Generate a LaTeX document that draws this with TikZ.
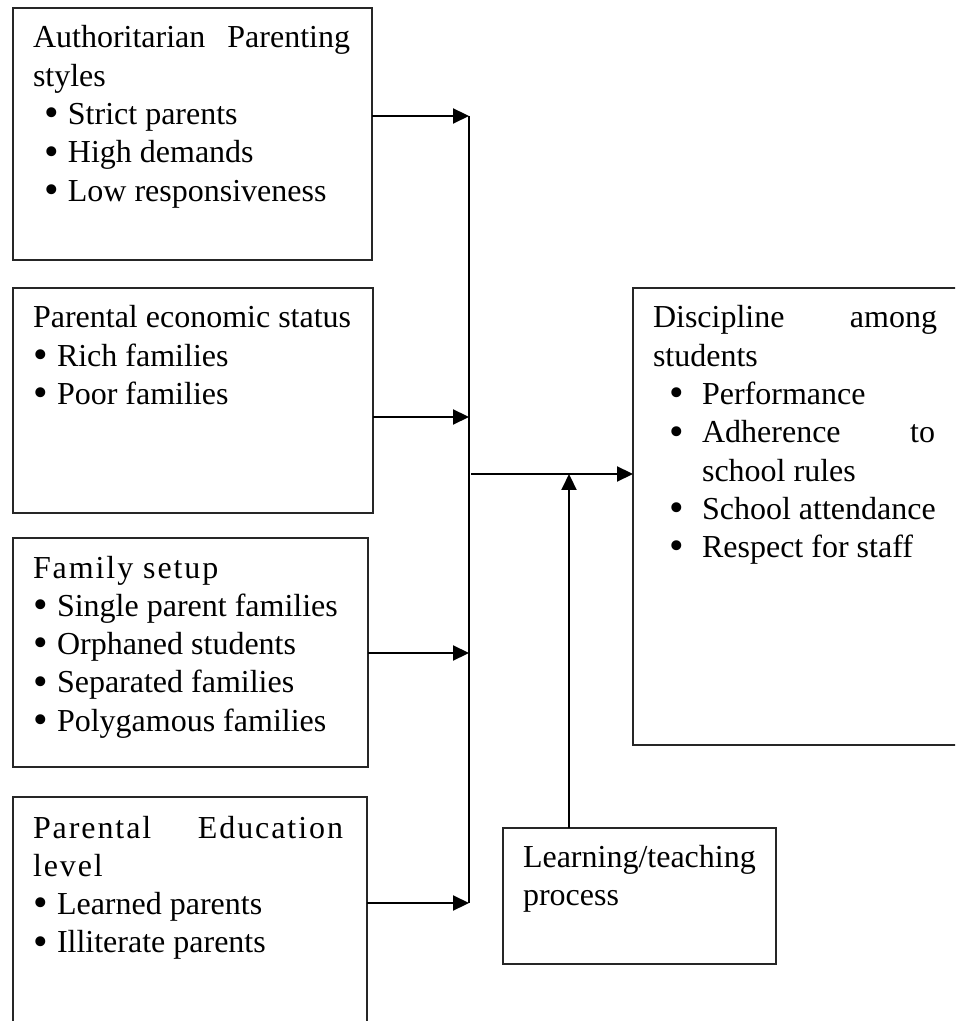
\documentclass[tikz,border=0pt]{standalone}
\usepackage{fontspec}
\setmainfont{Liberation Serif}
\newfontfamily\spacedfont[LetterSpace=6]{Liberation Serif}
\usetikzlibrary{arrows.meta}
\newcommand{\boxlines}{\fontsize{12pt}{14.36pt}\selectfont\parindent=0pt\raggedright}
\newcommand{\blt}{\raisebox{-0.8pt}{\scalebox{1.3}{•}}}
\begin{document}
\begin{tikzpicture}[x=0.375pt,y=-0.375pt,
  box/.style={draw=black!85,line width=0.45pt,rectangle,inner sep=0pt,outer sep=0pt,anchor=north west},
  txt/.style={inner sep=0pt,outer sep=0pt,anchor=base west},
  arr/.style={line width=0.9pt,-{Triangle[length=6pt,width=5.6pt]}},
  bar/.style={line width=0.45pt}]
\useasboundingbox (0,0) rectangle (955,1021);
\clip (0,0) rectangle (955,1021);
\fill[white] (0,0) rectangle (955,1021);

% boxes
\node[box,minimum width=134.6pt,minimum height=94.5pt] (b1) at (13,8) {};
\node[box,minimum width=135pt,minimum height=84.4pt] (b2) at (13,288) {};
\node[box,minimum width=133.1pt,minimum height=85.9pt] (b3) at (13,538) {};
\node[box,minimum width=132.75pt,minimum height=92pt] (b4) at (13,797) {};
\node[box,minimum width=126pt,minimum height=171.4pt] (disc) at (633,288) {};
\node[box,minimum width=102.4pt,minimum height=51pt] (learn) at (503,828) {};

% texts
\node[txt] (t1) at (33,48) {\parbox[t]{135pt}{\boxlines
\makebox[118.9pt][s]{Authoritarian\hfill Parenting}\\
styles\\
\hspace*{4.3pt}\makebox[8.8pt][l]{\blt}Strict parents\\
\hspace*{4.3pt}\makebox[8.8pt][l]{\blt}High demands\\
\hspace*{4.3pt}\makebox[8.8pt][l]{\blt}Low responsiveness}};

\node[txt] (t2) at (33,328) {\parbox[t]{135pt}{\boxlines
Parental economic status\\
\makebox[9pt][l]{\blt}Rich families\\
\makebox[9pt][l]{\blt}Poor families}};

\node[txt] (t3) at (33,578) {\parbox[t]{135pt}{\boxlines
{\spacedfont Family setup}\\
\makebox[9pt][l]{\blt}Single parent families\\
\makebox[9pt][l]{\blt}Orphaned students\\
\makebox[9pt][l]{\blt}Separated families\\
\makebox[9pt][l]{\blt}Polygamous families}};

\node[txt] (t4) at (33,838) {\parbox[t]{135pt}{\boxlines
\makebox[116.25pt][s]{\spacedfont Parental\hfill Education}\\
{\spacedfont level}\\
\makebox[9pt][l]{\blt}Learned parents\\
\makebox[9pt][l]{\blt}Illiterate parents}};

\node[txt] (t5) at (653,328) {\parbox[t]{120pt}{\boxlines
\makebox[106.5pt][s]{Discipline\hfill among}\\
students\\
\hspace*{6pt}\makebox[12.4pt][l]{\blt}Performance\\
\hspace*{6pt}\makebox[12.4pt][l]{\blt}\makebox[87.4pt][s]{Adherence\hfill to}\\
\hspace*{18.4pt}school rules\\
\hspace*{6pt}\makebox[12.4pt][l]{\blt}School attendance\\
\hspace*{6pt}\makebox[12.4pt][l]{\blt}Respect for staff}};

\node[txt] (t6) at (523,867) {\parbox[t]{100pt}{\boxlines
Learning/teaching\\
process}};

% junction coordinates
\coordinate (j1) at (469,116);
\coordinate (j2) at (469,417);
\coordinate (j3) at (469,653);
\coordinate (j4) at (469,903);
\coordinate (m) at (469,474);
\coordinate (u) at (569,474);

% connectors
\draw[arr] (b1.east |- j1) -- (j1);
\draw[arr] (b2.east |- j2) -- (j2);
\draw[arr] (b3.east |- j3) -- (j3);
\draw[arr] (b4.east |- j4) -- (j4);
\draw[bar] (j1) -- (j4);
\draw[arr] ([xshift=0.75pt]m) -- (disc.west |- m);
\draw[arr] (learn.north -| u) -- (u);
\end{tikzpicture}
\end{document}
